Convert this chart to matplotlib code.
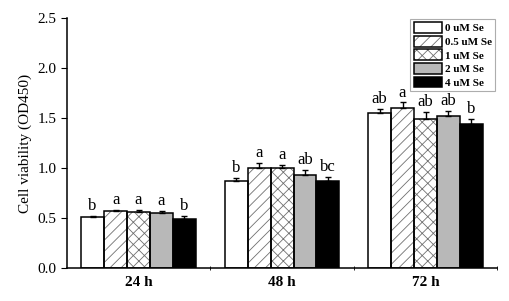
import matplotlib.pyplot as plt
import numpy as np
from matplotlib.legend_handler import HandlerTuple
from matplotlib.patches import Patch

plt.rcParams['font.family'] = ['Liberation Serif', 'DejaVu Serif']
plt.rcParams['hatch.linewidth'] = 0.6

GROUPS = ['24 h', '48 h', '72 h']
LABELS = ['0 uM Se', '0.5 uM Se', '1 uM Se', '2 uM Se', '4 uM Se']

# rows: dose, columns: time point
MEANS = [
    [0.51, 0.87, 1.55],
    [0.57, 1.00, 1.60],
    [0.56, 1.00, 1.49],
    [0.55, 0.93, 1.52],
    [0.49, 0.87, 1.44],
]
ERRORS = [
    [0.01, 0.03, 0.04],
    [0.01, 0.05, 0.06],
    [0.02, 0.03, 0.07],
    [0.02, 0.05, 0.05],
    [0.03, 0.04, 0.05],
]
LETTERS = [
    ['b', 'b', 'ab'],
    ['a', 'a', 'a'],
    ['a', 'a', 'ab'],
    ['a', 'ab', 'ab'],
    ['b', 'bc', 'b'],
]

FACE_COLORS = ['white', 'white', 'white', '#b8b8b8', 'black']
HATCHES = [None, '///', 'xxx', None, None]
HATCH_COLOR = '#707070'

fig = plt.figure(figsize=(5.10, 3.01), dpi=100)
ax = fig.add_axes([0.131, 0.110, 0.844, 0.830])

x = np.arange(len(GROUPS))
width = 0.16
handles = []

for i, label in enumerate(LABELS):
    pos = x + (i - 2) * width
    # fill + grey hatch first, black outline on top
    ax.bar(pos, MEANS[i], width, color=FACE_COLORS[i], edgecolor=HATCH_COLOR,
           linewidth=0, hatch=HATCHES[i], zorder=2)
    ax.bar(pos, MEANS[i], width, fill=False, edgecolor='black',
           linewidth=1.1, zorder=2.5)
    err = np.array(ERRORS[i])
    ax.errorbar(pos, MEANS[i], yerr=[np.zeros_like(err), err], fmt='none',
                ecolor='black', elinewidth=1, capsize=2.5, capthick=1, zorder=3)
    for px, m, e, t in zip(pos, MEANS[i], ERRORS[i], LETTERS[i]):
        ax.text(px, m + e + 0.015, t, ha='center', va='bottom', fontsize=12)
    handles.append((Patch(facecolor=FACE_COLORS[i], edgecolor=HATCH_COLOR,
                          linewidth=0, hatch=HATCHES[i]),
                    Patch(fill=False, edgecolor='black', linewidth=1.1)))

ax.set_xlim(-0.5, 2.5)
ax.set_ylim(0, 2.5)
ticks = np.arange(0, 2.51, 0.5)
ax.set_yticks(ticks)
ax.set_yticklabels([f'{v:.1f}' for v in ticks], fontsize=11)
ax.set_xticks(x)
ax.set_xticklabels(GROUPS, fontsize=11, fontweight='bold')
ax.tick_params(axis='x', length=0, pad=6)
ax.set_xticks([0.5, 1.5, 2.5], minor=True)
ax.tick_params(axis='x', which='minor', length=3, direction='inout')
ax.tick_params(axis='y', length=4, direction='out')
ax.set_ylabel('Cell viability (OD450)', fontsize=11)

for side in ['top', 'right']:
    ax.spines[side].set_visible(False)
ax.spines['left'].set_linewidth(1.1)
ax.spines['bottom'].set_linewidth(1.1)

leg = ax.legend(handles, LABELS, handler_map={tuple: HandlerTuple(ndivide=1, pad=0)},
                loc='upper right', bbox_to_anchor=(1.0, 1.005),
                prop={'weight': 'bold', 'size': 8}, frameon=True, fancybox=False,
                borderpad=0.3, labelspacing=0.22, handlelength=2.6,
                handleheight=1.1, handletextpad=0.2, borderaxespad=0.2)
leg.get_frame().set_edgecolor('#999999')
leg.get_frame().set_linewidth(0.8)

fig.savefig('out.png', dpi=100)
